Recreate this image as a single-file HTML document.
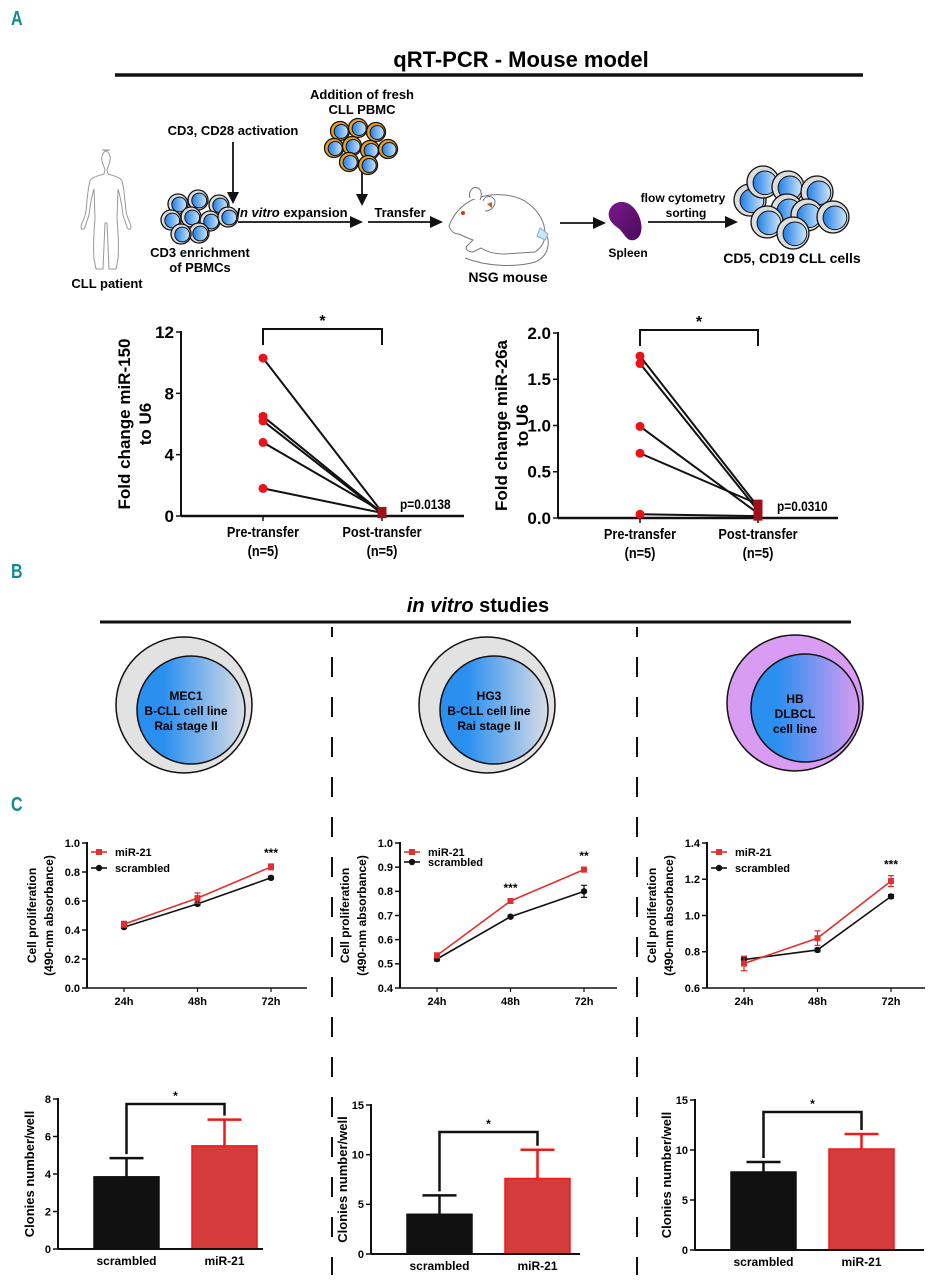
<!DOCTYPE html>
<html><head><meta charset="utf-8">
<style>
html,body{margin:0;padding:0;background:#fff;}
svg{display:block;font-family:"Liberation Sans",Arial,sans-serif;}
.b{font-weight:bold;}
</style></head>
<body>
<svg id="fig" width="929" height="1280" viewBox="0 0 929 1280" xmlns="http://www.w3.org/2000/svg">
<defs>
<linearGradient id="cellG" x1="0" y1="0" x2="1" y2="0"><stop offset="0" stop-color="#1f7fe6"/><stop offset="1" stop-color="#cfe6fb"/></linearGradient>
<linearGradient id="bigG" x1="0" y1="0" x2="1" y2="0"><stop offset="0.25" stop-color="#2b8ff0"/><stop offset="1" stop-color="#d9dde6"/></linearGradient>
<linearGradient id="bigP" x1="0" y1="0" x2="1" y2="0"><stop offset="0.25" stop-color="#2b8ff0"/><stop offset="1" stop-color="#d89cf2"/></linearGradient>
<linearGradient id="spG" x1="0" y1="0" x2="1" y2="1"><stop offset="0" stop-color="#7a1a8a"/><stop offset="1" stop-color="#4a0a5a"/></linearGradient>
</defs>

<!-- Panel letters -->
<text x="11" y="25" font-size="20" fill="#138a8c" class="b" transform="translate(11,25) scale(0.8,1) translate(-11,-25)">A</text>
<text x="11" y="578" font-size="20" fill="#138a8c" class="b" transform="translate(11,578) scale(0.8,1) translate(-11,-578)">B</text>
<text x="11" y="811" font-size="20" fill="#138a8c" class="b" transform="translate(11,811) scale(0.8,1) translate(-11,-811)">C</text>

<!-- Section A title -->
<text x="521" y="67" font-size="22" text-anchor="middle" class="b">qRT-PCR - Mouse model</text>
<line x1="115" y1="75" x2="863" y2="75" stroke="#111" stroke-width="3.5"/>

<!-- Schematic -->
<g fill="none" stroke="#999" stroke-width="1">
<path d="M110,150 c-7,0 -9,6 -8,11 c1,5 3,7 3,9 l-1,4 c-6,2 -12,3 -14,7 c-2,6 -3,20 -4,30 c-1,8 -5,12 -5,16 c0,3 3,3 4,0 l4,-12 c1,-8 3,-20 5,-26 l1,30 c-1,12 -2,28 -1,40 l2,10 h7 l2,-46 h2 l2,46 h7 l2,-10 c1,-12 0,-28 -1,-40 l1,-30 c2,6 4,18 5,26 l4,12 c1,3 4,3 4,0 c0,-4 -4,-8 -5,-16 c-1,-10 -2,-24 -4,-30 c-2,-4 -8,-5 -14,-7 l-1,-4 c0,-2 2,-4 3,-9 c1,-5 -1,-11 -8,-11 z"/>
</g>
<text x="107" y="288" font-size="13" text-anchor="middle" class="b">CLL patient</text>

<text x="233" y="135" font-size="13" text-anchor="middle" class="b">CD3, CD28 activation</text>
<line x1="233" y1="142" x2="233" y2="194" stroke="#111" stroke-width="1.8"/>
<path d="M227,192 L233,204 L239,192 Z" fill="#111"/>

<g id="cluster1"></g>
<text x="200" y="257" font-size="13" text-anchor="middle" class="b">CD3 enrichment</text>
<text x="200" y="272" font-size="13" text-anchor="middle" class="b">of PBMCs</text>

<line x1="238" y1="222" x2="352" y2="222" stroke="#111" stroke-width="1.8"/>
<path d="M350,216 L363,222 L350,228 Z" fill="#111"/>
<text x="292" y="217" font-size="13" text-anchor="middle" class="b"><tspan font-style="italic">In vitro</tspan> expansion</text>

<text x="362" y="99" font-size="13" text-anchor="middle" class="b">Addition of fresh</text>
<text x="362" y="114" font-size="13" text-anchor="middle" class="b">CLL PBMC</text>
<g id="cluster2"></g>
<line x1="362" y1="172" x2="362" y2="196" stroke="#111" stroke-width="1.8"/>
<path d="M356,194 L362,206 L368,194 Z" fill="#111"/>

<line x1="368" y1="222" x2="432" y2="222" stroke="#111" stroke-width="1.8"/>
<path d="M430,216 L443,222 L430,228 Z" fill="#111"/>
<text x="400" y="217" font-size="13" text-anchor="middle" class="b">Transfer</text>

<g fill="#fff" stroke="#777" stroke-width="1">
<path d="M449,226 c5,-14 16,-24 28,-28 c18,-6 40,-4 52,6 c10,8 16,18 16,30 c0,8 -4,14 -10,18 l-30,2 c-10,0 -18,-2 -24,-6 l-8,4 c-6,0 -8,-4 -6,-6 l6,-6 c-6,-2 -10,-4 -14,-6 c-4,0 -8,-2 -10,-8 z"/>
<path d="M470,198 c-2,-6 2,-12 8,-10 c4,2 4,8 2,12"/>
<path d="M483,201 c2,-6 10,-6 12,0 c0,6 -4,10 -10,10"/>
<path d="M487,204 l5,-2 l0,6 z" fill="#d05a1a" stroke="none"/>
<circle cx="463" cy="213" r="2" fill="#c04010" stroke="none"/>
<path d="M545,232 c6,10 4,24 -10,30 c-20,6 -50,4 -70,-4" fill="none"/>
<path d="M540,228 l8,6 l-3,6 l-8,-4 z" fill="#cfe4f4" stroke="#7aaed0"/>
</g>
<text x="508" y="282" font-size="14" text-anchor="middle" class="b">NSG mouse</text>

<line x1="560" y1="223" x2="595" y2="223" stroke="#111" stroke-width="1.8"/>
<path d="M593,217 L606,223 L593,229 Z" fill="#111"/>
<path d="M612,206 c8,-8 20,-4 26,8 c6,12 4,24 -4,26 c-8,2 -10,-8 -16,-12 c-6,-4 -14,-12 -6,-22 z" fill="url(#spG)"/>
<text x="628" y="257" font-size="12" text-anchor="middle" class="b">Spleen</text>

<text x="683" y="202" font-size="12" text-anchor="middle" class="b">flow cytometry</text>
<text x="686" y="217" font-size="12" text-anchor="middle" class="b">sorting</text>
<line x1="648" y1="222" x2="727" y2="222" stroke="#111" stroke-width="1.8"/>
<path d="M725,216 L738,222 L725,228 Z" fill="#111"/>
<g id="cluster3"></g>
<text x="792" y="263" font-size="14" text-anchor="middle" class="b">CD5, CD19 CLL cells</text>

<!-- Section B -->
<text x="478" y="612" font-size="20" text-anchor="middle" class="b"><tspan font-style="italic">in vitro</tspan> studies</text>
<line x1="100" y1="622" x2="851" y2="622" stroke="#111" stroke-width="3"/>
<line x1="332" y1="627" x2="332" y2="1275" stroke="#111" stroke-width="2" stroke-dasharray="20 20" stroke-dashoffset="10"/>
<line x1="637" y1="627" x2="637" y2="1275" stroke="#111" stroke-width="2" stroke-dasharray="20 20" stroke-dashoffset="10"/>

<g>
<circle cx="184" cy="705" r="68" fill="#e2e2e2" stroke="#111" stroke-width="1.5"/>
<circle cx="191" cy="710" r="54" fill="url(#bigG)" stroke="#111" stroke-width="1.5"/>
<text x="186" y="700" font-size="12" text-anchor="middle" class="b">MEC1</text>
<text x="186" y="715" font-size="12" text-anchor="middle" class="b">B-CLL cell line</text>
<text x="186" y="730" font-size="12" text-anchor="middle" class="b">Rai stage II</text>
</g>
<g>
<circle cx="487" cy="705" r="68" fill="#e2e2e2" stroke="#111" stroke-width="1.5"/>
<circle cx="494" cy="710" r="54" fill="url(#bigG)" stroke="#111" stroke-width="1.5"/>
<text x="489" y="700" font-size="12" text-anchor="middle" class="b">HG3</text>
<text x="489" y="715" font-size="12" text-anchor="middle" class="b">B-CLL cell line</text>
<text x="489" y="730" font-size="12" text-anchor="middle" class="b">Rai stage II</text>
</g>
<g>
<circle cx="795" cy="703" r="68" fill="#d89cf2" stroke="#111" stroke-width="1.5"/>
<circle cx="805" cy="708" r="54" fill="url(#bigP)" stroke="#111" stroke-width="1.5"/>
<text x="795" y="703" font-size="12" text-anchor="middle" class="b">HB</text>
<text x="795" y="718" font-size="12" text-anchor="middle" class="b">DLBCL</text>
<text x="795" y="733" font-size="12" text-anchor="middle" class="b">cell line</text>
</g>

<g id="charts"></g>
</svg>

<script>
// ---- Dot plot data ----
const pairCats = ["Pre-transfer", "Post-transfer"];
const mir150Pre = [10.3, 6.5, 6.2, 4.8, 1.8];
const mir150Post = [0.25, 0.2, 0.15, 0.3, 0.2];
const mir150Ticks = [0, 4, 8, 12];
const mir26Pre = [1.75, 1.67, 0.99, 0.70, 0.04];
const mir26Post = [0.12, 0.08, 0.05, 0.15, 0.02];
const mir26Ticks = [0, 0.5, 1.0, 1.5, 2.0];
const mir26TickLabels = ["0.0", "0.5", "1.0", "1.5", "2.0"];

// ---- Proliferation line chart data ----
const timeCats = ["24h", "48h", "72h"];
const mec1Mir = [0.44, 0.62, 0.835];
const mec1MirErr = [0.02, 0.035, 0.02];
const mec1Scr = [0.42, 0.58, 0.76];
const mec1ScrErr = [0.01, 0.01, 0.01];
const mec1Stars = ["", "", "***"];
const mec1Ticks = [0, 0.2, 0.4, 0.6, 0.8, 1.0];
const mec1TickLabels = ["0.0", "0.2", "0.4", "0.6", "0.8", "1.0"];
const hg3Mir = [0.535, 0.76, 0.89];
const hg3MirErr = [0.01, 0.008, 0.01];
const hg3Scr = [0.52, 0.695, 0.80];
const hg3ScrErr = [0.008, 0.006, 0.025];
const hg3Stars = ["", "***", "**"];
const hg3Ticks = [0.4, 0.5, 0.6, 0.7, 0.8, 0.9, 1.0];
const hg3TickLabels = ["0.4", "0.5", "0.6", "0.7", "0.8", "0.9", "1.0"];
const hbMir = [0.735, 0.875, 1.19];
const hbMirErr = [0.04, 0.04, 0.03];
const hbScr = [0.757, 0.81, 1.105];
const hbScrErr = [0.015, 0.01, 0.01];
const hbStars = ["", "", "***"];
const hbTicks = [0.6, 0.8, 1.0, 1.2, 1.4];
const hbTickLabels = ["0.6", "0.8", "1.0", "1.2", "1.4"];

// ---- Colony bar data ----
const barCats = ["scrambled", "miR-21"];
const mec1Bars = [3.85, 5.5];
const mec1BarErr = [1.0, 1.4];
const mec1BarTicks = [0, 2, 4, 6, 8];
const hg3Bars = [4.0, 7.6];
const hg3BarErr = [1.9, 2.9];
const hg3BarTicks = [0, 5, 10, 15];
const hbBars = [7.8, 10.1];
const hbBarErr = [1.0, 1.5];
const hbBarTicks = [0, 5, 10, 15];

const NS = "http://www.w3.org/2000/svg";
const root = document.getElementById("charts");
function mk(tag, attrs, parent) {
  const e = document.createElementNS(NS, tag);
  for (const k in attrs) e.setAttribute(k, attrs[k]);
  (parent || root).appendChild(e);
  return e;
}
function txt(str, attrs, parent) {
  const e = mk("text", attrs, parent);
  e.textContent = str;
  return e;
}

// ---- Cell clusters ----
function cell(parent, cx, cy, r, rim) {
  mk("circle", {cx: cx, cy: cy, r: r, fill: rim, stroke: "#111", "stroke-width": 1.3}, parent);
  mk("circle", {cx: cx + r * 0.12, cy: cy + r * 0.05, r: r * 0.74, fill: "url(#cellG)", stroke: "#111", "stroke-width": 1}, parent);
}
const c1 = document.getElementById("cluster1");
[[178,204],[198,200],[219,205],[171,220],[191,217],[210,221],[228,217],[199,233],[181,234]].forEach(p => cell(c1, p[0], p[1], 10, "#ddd"));
const c2 = document.getElementById("cluster2");
[[340,131],[358,128],[376,132],[334,148],[352,146],[370,150],[388,149],[349,162],[368,165]].forEach(p => cell(c2, p[0], p[1], 9.5, "#f0a020"));
const c3 = document.getElementById("cluster3");
[[750,200],[763,182],[788,187],[817,192],[787,210],[767,222],[807,215],[833,217],[793,233]].forEach(p => cell(c3, p[0], p[1], 16, "#ddd"));

// ---- Generic axis helpers ----
function linScale(d0, d1, r0, r1) { return v => r0 + (v - d0) * (r1 - r0) / (d1 - d0); }

function yAxis(g, x, y, ticks, labels, fs) {
  mk("line", {x1: x, y1: y(ticks[ticks.length-1]) - 1, x2: x, y2: y(ticks[0]), stroke: "#111", "stroke-width": 2}, g);
  ticks.forEach((t, i) => {
    mk("line", {x1: x - 5, y1: y(t), x2: x, y2: y(t), stroke: "#111", "stroke-width": 1.5}, g);
    txt(labels[i], {x: x - 7, y: y(t) + fs * 0.35, "font-size": fs, "text-anchor": "end", "font-weight": "bold"}, g);
  });
}
function yTitle(g, lines, cx, cy, fs, gap) {
  lines.forEach((l, i) => {
    const xx = cx + i * gap;
    txt(l, {x: xx, y: cy, "font-size": fs, "text-anchor": "middle", "font-weight": "bold", transform: "rotate(-90 " + xx + " " + cy + ")"}, g);
  });
}

// ---- Paired dot plots ----
function pairPlot(name, ax, xEnd, yTop, yBot, max, pre, post, ticks, labels, title, pText, pX, catX) {
  const g = mk("g", {});
  
  
  const y = linScale(0, max, yBot, yTop);
  const x = i => catX[i];
  yAxis(g, ax, y, ticks, labels, 17);
  mk("line", {x1: ax, y1: yBot, x2: xEnd, y2: yBot, stroke: "#111", "stroke-width": 2.5}, g);
  pairCats.forEach((c, i) => {
    mk("line", {x1: x(i), y1: yBot, x2: x(i), y2: yBot + 5, stroke: "#111", "stroke-width": 1.5}, g);
    const t = txt(c, {x: x(i), y: yBot + 21, "font-size": 15, "text-anchor": "middle", "font-weight": "bold", transform: "translate(" + x(i) + ",0) scale(0.85,1) translate(" + (-x(i)) + ",0)"}, g);
    
    
    txt("(n=5)", {x: x(i), y: yBot + 40, "font-size": 15, "text-anchor": "middle", "font-weight": "bold", transform: "translate(" + x(i) + ",0) scale(0.85,1) translate(" + (-x(i)) + ",0)"}, g);
  });
  pre.forEach((v, i) => {
    const l = mk("line", {x1: x(0), y1: y(v), x2: x(1), y2: y(post[i]), stroke: "#111", "stroke-width": 2}, g);
    
    
  });
  pre.forEach(v => {
    const c = mk("circle", {cx: x(0), cy: y(v), r: 4.5, fill: "#e8141a"}, g);
    
    
  });
  post.forEach(v => {
    const r = mk("rect", {x: x(1) - 4.5, y: y(v) - 4.5, width: 9, height: 9, fill: "#a0101a"}, g);
    
    
  });
  const by = yTop - 3;
  mk("path", {d: "M" + x(0) + "," + (by + 16) + " V" + by + " H" + x(1) + " V" + (by + 16), fill: "none", stroke: "#111", "stroke-width": 2}, g);
  txt("*", {x: (x(0) + x(1)) / 2, y: by - 3, "font-size": 16, "text-anchor": "middle", "font-weight": "bold"}, g);
  const p = txt(pText, {x: pX, y: yBot - 7, "font-size": 14, "font-weight": "bold", transform: "translate(" + pX + ",0) scale(0.85,1) translate(" + (-pX) + ",0)"}, g);
  
  
  yTitle(g, title, ax - 51, (yTop + yBot) / 2, 17, 21);
}
pairPlot("mir150-dot-plot", 181, 464, 332, 516, 12, mir150Pre, mir150Post, mir150Ticks, mir150Ticks.map(String), ["Fold change miR-150", "to U6"], "p=0.0138", 400, [263, 382]);
pairPlot("mir26a-dot-plot", 558, 838, 333, 518, 2, mir26Pre, mir26Post, mir26Ticks, mir26TickLabels, ["Fold change miR-26a", "to U6"], "p=0.0310", 777, [640, 758]);

// ---- Line charts ----
function lineChart(name, ax, xEnd, yTop, yBot, ticks, labels, mir, mirErr, scr, scrErr, stars, legY2) {
  const g = mk("g", {});
  
  
  const y = linScale(ticks[0], ticks[ticks.length - 1], yBot, yTop);
  const x = i => ax + 37 + i * 73.5;
  yAxis(g, ax, y, ticks, labels, 11);
  mk("line", {x1: ax, y1: yBot, x2: xEnd, y2: yBot, stroke: "#111", "stroke-width": 1.5}, g);
  timeCats.forEach((c, i) => {
    mk("line", {x1: x(i), y1: yBot, x2: x(i), y2: yBot + 4, stroke: "#111", "stroke-width": 1.2}, g);
    txt(c, {x: x(i), y: yBot + 17, "font-size": 11, "text-anchor": "middle", "font-weight": "bold"}, g);
  });
  function series(vals, errs, col, sq, nm) {
    const pts = vals.map((v, i) => x(i) + "," + y(v)).join(" ");
    const pl = mk("polyline", {points: pts, fill: "none", stroke: col, "stroke-width": 1.6}, g);
    
    
    vals.forEach((v, i) => {
      mk("path", {d: "M" + (x(i) - 3) + "," + y(v + errs[i]) + " h6 M" + x(i) + "," + y(v + errs[i]) + " V" + y(v - errs[i]) + " M" + (x(i) - 3) + "," + y(v - errs[i]) + " h6", stroke: col, "stroke-width": 1.2, fill: "none"}, g);
      let m;
      if (sq) m = mk("rect", {x: x(i) - 3, y: y(v) - 3, width: 6, height: 6, fill: col}, g);
      else m = mk("circle", {cx: x(i), cy: y(v), r: 3.2, fill: col}, g);
      
      
    });
  }
  series(scr, scrErr, "#111", false, "scrambled");
  series(mir, mirErr, "#e03030", true, "mir21");
  stars.forEach((s, i) => {
    if (s) txt(s, {x: x(i), y: y(Math.max(mir[i] + mirErr[i], scr[i])) - 7, "font-size": 12, "text-anchor": "middle", "font-weight": "bold"}, g);
  });
  const lx = ax + 4;
  const lg = mk("g", {}, g);
  
  
  mk("line", {x1: lx, y1: yTop + 9, x2: lx + 16, y2: yTop + 9, stroke: "#e03030", "stroke-width": 1.6}, lg);
  mk("rect", {x: lx + 5, y: yTop + 6, width: 6, height: 6, fill: "#e03030"}, lg);
  txt("miR-21", {x: lx + 24, y: yTop + 13, "font-size": 11, "font-weight": "bold"}, lg);
  mk("line", {x1: lx, y1: legY2, x2: lx + 16, y2: legY2, stroke: "#111", "stroke-width": 1.6}, lg);
  mk("circle", {cx: lx + 8, cy: legY2, r: 3.2, fill: "#111"}, lg);
  txt("scrambled", {x: lx + 24, y: legY2 + 4, "font-size": 11, "font-weight": "bold"}, lg);
  yTitle(g, ["Cell proliferation", "(490-nm absorbance)"], ax - 51, (yTop + yBot) / 2, 12, 17);
}
lineChart("mec1-proliferation-chart", 87, 307, 843, 988, mec1Ticks, mec1TickLabels, mec1Mir, mec1MirErr, mec1Scr, mec1ScrErr, mec1Stars, 868);
lineChart("hg3-proliferation-chart", 400, 617, 843, 988, hg3Ticks, hg3TickLabels, hg3Mir, hg3MirErr, hg3Scr, hg3ScrErr, hg3Stars, 862);
lineChart("hb-proliferation-chart", 707, 925, 843, 988, hbTicks, hbTickLabels, hbMir, hbMirErr, hbScr, hbScrErr, hbStars, 868);

// ---- Bar charts ----
function barChart(name, ax, xEnd, yTop, yBot, ticks, vals, errs, bracketY) {
  const g = mk("g", {});
  
  
  const y = linScale(0, ticks[ticks.length - 1], yBot, yTop);
  const bx = i => ax + 36 + i * 98;
  const bw = 65;
  const cols = ["#111", "#d43c3c"];
  const strokes = ["#111", "#f01818"];
  vals.forEach((v, i) => {
    const cx = bx(i) + bw / 2;
    mk("path", {d: "M" + cx + "," + y(v) + " V" + y(v + errs[i]) + " M" + (cx - 17) + "," + y(v + errs[i]) + " h34", stroke: strokes[i], "stroke-width": 2.5, fill: "none"}, g);
    const r = mk("rect", {x: bx(i), y: y(v), width: bw, height: yBot - y(v), fill: cols[i], stroke: strokes[i], "stroke-width": 1.5}, g);
    
    
    txt(barCats[i], {x: cx, y: yBot + 16, "font-size": 12, "text-anchor": "middle", "font-weight": "bold"}, g);
  });
  yAxis(g, ax, y, ticks, ticks.map(String), 11);
  mk("line", {x1: ax, y1: yBot, x2: xEnd, y2: yBot, stroke: "#111", "stroke-width": 2}, g);
  const c0 = bx(0) + bw / 2, c1x = bx(1) + bw / 2;
  const br = mk("path", {d: "M" + c0 + "," + (y(vals[0] + errs[0]) - 4) + " V" + bracketY + " H" + c1x + " V" + (y(vals[1] + errs[1]) - 4), stroke: "#111", "stroke-width": 2.5, fill: "none"}, g);
  
  
  txt("*", {x: (c0 + c1x) / 2, y: bracketY - 4, "font-size": 12, "text-anchor": "middle", "font-weight": "bold"}, g);
  yTitle(g, ["Clonies number/well"], ax - 24, (yTop + yBot) / 2, 13, 0);
}
barChart("mec1-colony-chart", 58, 263, 1099, 1249, mec1BarTicks, mec1Bars, mec1BarErr, 1104);
barChart("hg3-colony-chart", 371, 580, 1105, 1254, hg3BarTicks, hg3Bars, hg3BarErr, 1132);
barChart("hb-colony-chart", 695, 924, 1100, 1250, hbBarTicks, hbBars, hbBarErr, 1112);
</script>
</body></html>
